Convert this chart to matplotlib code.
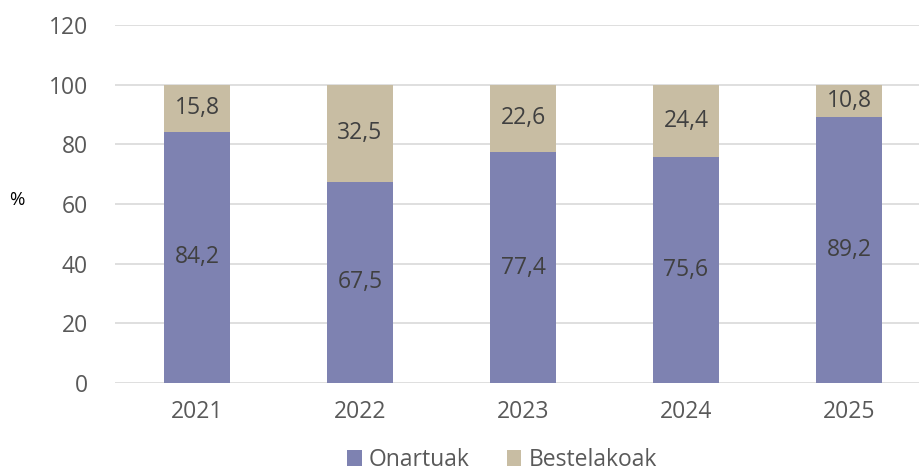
import matplotlib.pyplot as plt
import numpy as np

years = ["2021", "2022", "2023", "2024", "2025"]
onartuak = [84.2, 67.5, 77.4, 75.6, 89.2]
bestelakoak = [15.8, 32.5, 22.6, 24.4, 10.8]
yticks = [0, 20, 40, 60, 80, 100, 120]

plt.rcParams['font.family'] = ['Open Sans', 'DejaVu Sans']

c_on = '#7E82B1'
c_be = '#C8BDA3'

fig = plt.figure(figsize=(9.2, 4.74), dpi=100)
ax = fig.add_axes([115.5 / 920, 1 - 383 / 474, 815 / 920, 358 / 474])

x = np.arange(len(years))
b1 = ax.bar(x, onartuak, width=0.4, color=c_on, label="Onartuak", zorder=2)
b2 = ax.bar(x, bestelakoak, width=0.4, bottom=onartuak, color=c_be, label="Bestelakoak", zorder=2)

for i in range(len(years)):
    ax.text(x[i], onartuak[i] / 2, f"{onartuak[i]:.1f}".replace(".", ","),
            ha='center', va='center', fontsize=16.5, color='#404040', zorder=3)
    ax.text(x[i], onartuak[i] + bestelakoak[i] / 2, f"{bestelakoak[i]:.1f}".replace(".", ","),
            ha='center', va='center', fontsize=16.5, color='#404040', zorder=3)

ax.set_xlim(-0.5, len(years) - 0.5)
ax.set_ylim(0, 120)
ax.set_yticks(yticks)
ax.set_xticks(x)
ax.set_xticklabels(years)
ax.yaxis.grid(True, color='#D9D9D9', linewidth=1.2, zorder=0)
ax.set_axisbelow(True)
for s in ax.spines.values():
    s.set_visible(False)
ax.tick_params(axis='both', length=0, labelsize=16.5, labelcolor='#595959')
ax.tick_params(axis='y', pad=20)
ax.tick_params(axis='x', pad=12)

fig.text(17 / 920, 1 - 200 / 474, "%", fontsize=13.5, color='black', ha='center', va='center')

fig.legend(handles=[b1, b2], loc='center', bbox_to_anchor=(502 / 920, 1 - 460 / 474),
           ncol=2, frameon=False, fontsize=16.5, handlelength=0.65, handleheight=0.65,
           handletextpad=0.3, columnspacing=1.6, labelcolor='#595959',
           borderpad=0.1)

fig.savefig("out.png", dpi=100)
